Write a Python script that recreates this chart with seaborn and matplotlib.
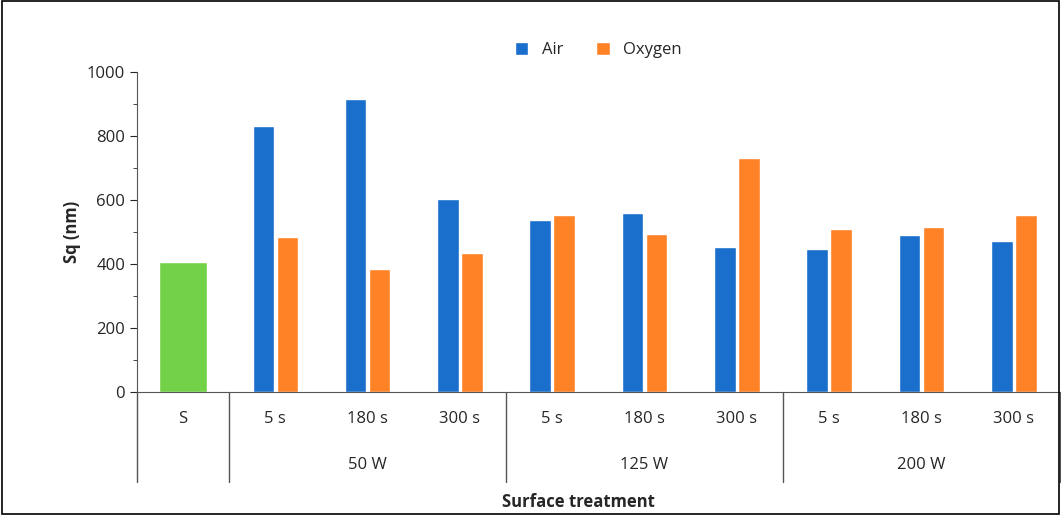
import matplotlib
matplotlib.use("Agg")
import matplotlib.pyplot as plt
import seaborn as sns
import pandas as pd
import numpy as np

# Data
times = ["5 s", "180 s", "300 s"]
powers = ["50 W", "125 W", "200 W"]
s_value = 405
air = [830, 917, 603, 537, 560, 452, 447, 490, 473]
oxygen = [485, 385, 435, 552, 493, 730, 508, 517, 552]

sns.set_style("white")
plt.rcParams['font.family'] = ['Open Sans', 'DejaVu Sans']

cats = ["S"] + [f"{p} {t}" for p in powers for t in times]
rows = []
for i, c in enumerate(cats[1:]):
    rows.append((c, "Air", air[i]))
    rows.append((c, "Oxygen", oxygen[i]))
df = pd.DataFrame(rows, columns=["cat", "gas", "value"])

fig = plt.figure(figsize=(10.61, 5.15), dpi=100)
ax = fig.add_axes([0.129, 0.239, 0.87, 0.621])
sns.barplot(data=df, x="cat", y="value", hue="gas", order=cats,
            palette={"Air": "#1a6ecc", "Oxygen": "#ff8227"},
            width=0.52, gap=0.1, ax=ax, saturation=1)
ax.bar(0, s_value, width=0.52, color="#72d147")

ax.set_ylim(0, 1000)
ax.set_xlim(-0.5, 9.5)
ax.set_yticks(range(0, 1001, 200))
ax.set_yticks(range(0, 1001, 100), minor=True)
ax.tick_params(axis='y', which='major', length=5, labelsize=12, direction='out', left=True)
ax.tick_params(axis='y', which='minor', length=3, left=True)
ax.tick_params(axis='x', length=0, labelsize=12, pad=14)
ax.set_xticks(range(10))
ax.set_xticklabels(["S"] + times * 3)
for sp in ["top", "right"]:
    ax.spines[sp].set_visible(False)
ax.spines["left"].set_color("#555555")
ax.spines["bottom"].set_color("#555555")
ax.set_ylabel("Sq (nm)", fontweight='bold', fontsize=12)
ax.set_xlabel("")

# group labels and separators below axis
for x in [-0.5, 0.5, 3.5, 6.5, 9.5]:
    ax.plot([x, x], [0, -282], color="#555555", lw=1, clip_on=False,
            transform=ax.transData)
for j, p in enumerate(powers):
    ax.text(2 + 3 * j, -230, p, ha='center', va='center', fontsize=12)
fig.text(0.545, 0.025, "Surface treatment", ha='center', va='center',
         fontsize=12, fontweight='bold')

ax.legend(loc='upper center', bbox_to_anchor=(0.5, 1.14), ncol=2, frameon=False,
          fontsize=12, handlelength=0.8, handleheight=0.8, columnspacing=2)

fig.patches.append(plt.Rectangle((0.002, 0.002), 0.996, 0.996, transform=fig.transFigure,
                                 fill=False, edgecolor='black', lw=1.2))
fig.savefig("out.png", dpi=100)
